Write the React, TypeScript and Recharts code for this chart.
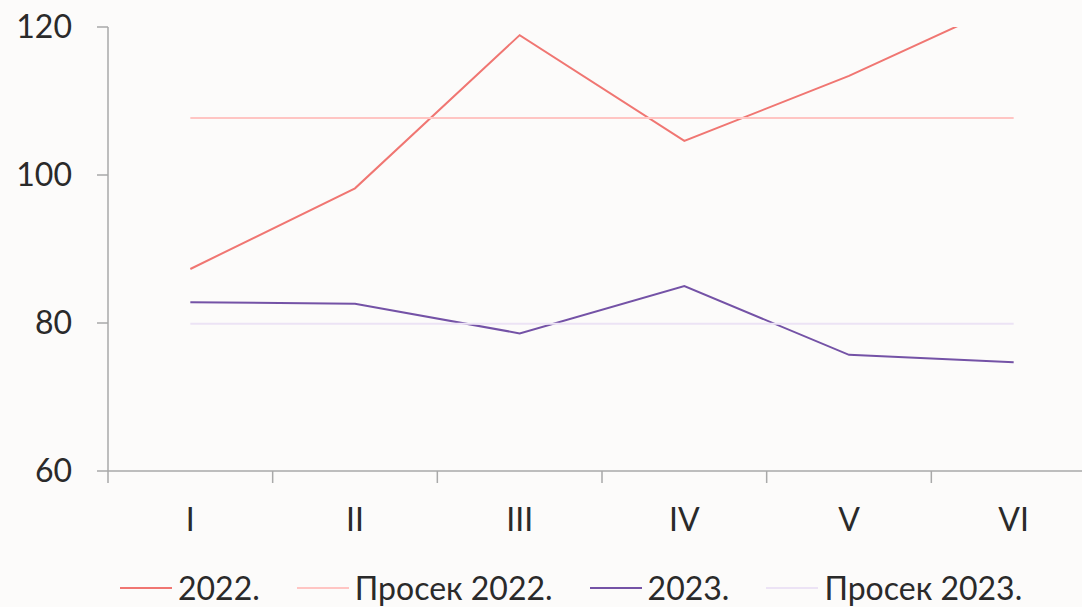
import React from 'react';
import { LineChart, Line, XAxis, YAxis, Legend } from 'recharts';

// months (Roman numerals)
const months = ['I', 'II', 'III', 'IV', 'V', 'VI'];
const values2022 = [87.3, 98.2, 118.9, 104.6, 113.4, 123.6];
const avg2022 = [107.7, 107.7, 107.7, 107.7, 107.7, 107.7];
const values2023 = [82.8, 82.6, 78.6, 85.0, 75.7, 74.7];
const avg2023 = [79.9, 79.9, 79.9, 79.9, 79.9, 79.9];
const yTicks = [60, 80, 100, 120];

const data = months.map((m, i) => ({
  month: m,
  v2022: values2022[i],
  a2022: avg2022[i],
  v2023: values2023[i],
  a2023: avg2023[i],
}));

const series = [
  { key: 'v2022', name: '2022.', color: '#f07672' },
  { key: 'a2022', name: 'Просек 2022.', color: '#ffc5c3' },
  { key: 'v2023', name: '2023.', color: '#7452a6' },
  { key: 'a2023', name: 'Просек 2023.', color: '#ece3f5' },
];

const FONT = 'Lato, "Open Sans", sans-serif';
const TEXT = '#2a2a2a';
const AXIS = '#a9a9a9';

const CHART_W = 1100;
const CHART_H = 607;
const Y_W = 108;
const RIGHT = 4;
const HALF_BAND = (CHART_W - Y_W - RIGHT) / months.length / 2;

const XTick = (props: any) => {
  const { x, y, payload, index } = props;
  return (
    <g>
      <line x1={x - HALF_BAND} y1={y} x2={x - HALF_BAND} y2={y + 12} stroke={AXIS} strokeWidth={1.5} />
      {index === months.length - 1 && (
        <line x1={x + HALF_BAND} y1={y} x2={x + HALF_BAND} y2={y + 12} stroke={AXIS} strokeWidth={1.5} />
      )}
      <text x={x} y={y + 37} dy="0.71em" textAnchor="middle" fill={TEXT} fontSize={32} fontFamily={FONT}>
        {payload.value}
      </text>
    </g>
  );
};

const LegendContent = () => (
  <div
    style={{
      display: 'flex',
      alignItems: 'center',
      height: 32,
      lineHeight: '32px',
      paddingLeft: 120,
      fontFamily: FONT,
      fontSize: 32,
      color: TEXT,
    }}
  >
    {series.map((s) => (
      <div key={s.key} style={{ display: 'flex', alignItems: 'center', marginRight: 37 }}>
        <span style={{ width: 52, height: 2, background: s.color, marginRight: 6 }} />
        <span>{s.name}</span>
      </div>
    ))}
  </div>
);

export default function App() {
  return (
    <div
      style={{
        position: 'absolute',
        left: 0,
        top: 0,
        width: 1082,
        height: 607,
        overflow: 'hidden',
        background: '#fcfbfa',
      }}
    >
      <LineChart
        width={CHART_W}
        height={CHART_H}
        data={data}
        margin={{ top: 27, right: RIGHT, left: 0, bottom: 44 }}
      >
        <XAxis
          dataKey="month"
          scale="band"
          height={60}
          tickSize={0}
          tickMargin={0}
          tickLine={false}
          axisLine={{ stroke: AXIS, strokeWidth: 1.5 }}
          tick={<XTick />}
          interval={0}
        />
        <YAxis
          width={Y_W}
          domain={[60, 120]}
          ticks={yTicks}
          allowDataOverflow
          tickSize={11}
          tickMargin={25}
          tickLine={{ stroke: AXIS, strokeWidth: 1.5 }}
          axisLine={{ stroke: AXIS, strokeWidth: 1.5 }}
          tick={{ fill: TEXT, fontSize: 32, fontFamily: FONT }}
        />
        <Legend
          verticalAlign="bottom"
          content={<LegendContent />}
          wrapperStyle={{ top: 572, left: 0, width: 1082 }}
        />
        {series.map((s) => (
          <Line
            key={s.key}
            type="linear"
            dataKey={s.key}
            name={s.name}
            stroke={s.color}
            strokeWidth={2}
            dot={false}
            activeDot={false}
            isAnimationActive={false}
          />
        ))}
      </LineChart>
    </div>
  );
}
